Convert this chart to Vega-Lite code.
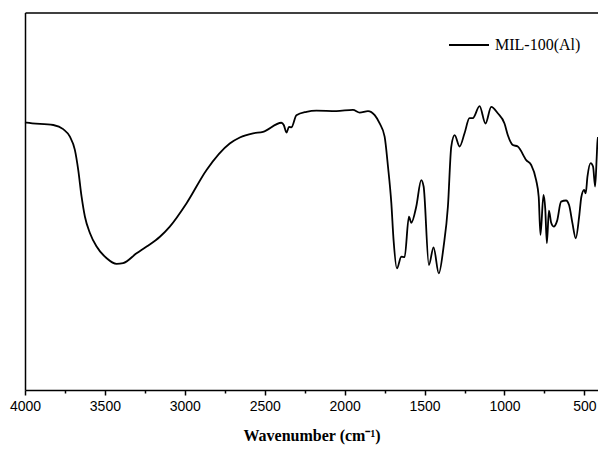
{
  "$schema": "https://vega.github.io/schema/vega-lite/v6.json",
  "width": 573,
  "height": 377.5,
  "autosize": {"type": "none"},
  "padding": {"left": 25, "top": 12.5, "right": 0, "bottom": 60},
  "config": {
    "view": {"stroke": null},
    "axis": {
      "grid": false,
      "domainColor": "black",
      "domainWidth": 1.5,
      "tickColor": "black",
      "tickWidth": 1.5,
      "labelColor": "black",
      "titleColor": "black"
    }
  },
  "data": {
    "values": [
      {"wavenumber": 4000, "transmittance": 70.9},
      {"wavenumber": 3989, "transmittance": 70.8},
      {"wavenumber": 3823, "transmittance": 70.2},
      {"wavenumber": 3761, "transmittance": 69.1},
      {"wavenumber": 3719, "transmittance": 67.1},
      {"wavenumber": 3688, "transmittance": 63.6},
      {"wavenumber": 3667, "transmittance": 58.3},
      {"wavenumber": 3646, "transmittance": 51.2},
      {"wavenumber": 3625, "transmittance": 45.9},
      {"wavenumber": 3594, "transmittance": 41.6},
      {"wavenumber": 3552, "transmittance": 38.0},
      {"wavenumber": 3489, "transmittance": 34.9},
      {"wavenumber": 3427, "transmittance": 33.4},
      {"wavenumber": 3386, "transmittance": 33.6},
      {"wavenumber": 3302, "transmittance": 36.2},
      {"wavenumber": 3239, "transmittance": 38.0},
      {"wavenumber": 3156, "transmittance": 40.6},
      {"wavenumber": 3094, "transmittance": 43.3},
      {"wavenumber": 2989, "transmittance": 49.5},
      {"wavenumber": 2864, "transmittance": 58.3},
      {"wavenumber": 2719, "transmittance": 65.3},
      {"wavenumber": 2656, "transmittance": 66.9},
      {"wavenumber": 2573, "transmittance": 68.0},
      {"wavenumber": 2511, "transmittance": 68.4},
      {"wavenumber": 2396, "transmittance": 70.8},
      {"wavenumber": 2381, "transmittance": 70.2},
      {"wavenumber": 2364, "transmittance": 68.2},
      {"wavenumber": 2348, "transmittance": 69.7},
      {"wavenumber": 2333, "transmittance": 69.6},
      {"wavenumber": 2302, "transmittance": 72.8},
      {"wavenumber": 2239, "transmittance": 73.7},
      {"wavenumber": 2177, "transmittance": 74.0},
      {"wavenumber": 2052, "transmittance": 73.9},
      {"wavenumber": 1948, "transmittance": 74.2},
      {"wavenumber": 1906, "transmittance": 73.5},
      {"wavenumber": 1854, "transmittance": 73.9},
      {"wavenumber": 1812, "transmittance": 72.8},
      {"wavenumber": 1781, "transmittance": 70.6},
      {"wavenumber": 1750, "transmittance": 67.1},
      {"wavenumber": 1729, "transmittance": 59.2},
      {"wavenumber": 1708, "transmittance": 49.5},
      {"wavenumber": 1694, "transmittance": 39.7},
      {"wavenumber": 1673, "transmittance": 32.2},
      {"wavenumber": 1646, "transmittance": 35.3},
      {"wavenumber": 1625, "transmittance": 35.2},
      {"wavenumber": 1598, "transmittance": 45.9},
      {"wavenumber": 1583, "transmittance": 44.3},
      {"wavenumber": 1552, "transmittance": 48.6},
      {"wavenumber": 1521, "transmittance": 55.6},
      {"wavenumber": 1506, "transmittance": 53.9},
      {"wavenumber": 1473, "transmittance": 33.1},
      {"wavenumber": 1444, "transmittance": 37.8},
      {"wavenumber": 1411, "transmittance": 30.9},
      {"wavenumber": 1381, "transmittance": 38.0},
      {"wavenumber": 1354, "transmittance": 48.6},
      {"wavenumber": 1333, "transmittance": 64.5},
      {"wavenumber": 1312, "transmittance": 67.5},
      {"wavenumber": 1281, "transmittance": 64.5},
      {"wavenumber": 1250, "transmittance": 68.0},
      {"wavenumber": 1219, "transmittance": 72.0},
      {"wavenumber": 1198, "transmittance": 72.0},
      {"wavenumber": 1156, "transmittance": 75.2},
      {"wavenumber": 1119, "transmittance": 70.6},
      {"wavenumber": 1083, "transmittance": 75.0},
      {"wavenumber": 1042, "transmittance": 73.3},
      {"wavenumber": 1000, "transmittance": 70.6},
      {"wavenumber": 979, "transmittance": 67.5},
      {"wavenumber": 948, "transmittance": 64.9},
      {"wavenumber": 917, "transmittance": 64.5},
      {"wavenumber": 864, "transmittance": 60.9},
      {"wavenumber": 833, "transmittance": 59.6},
      {"wavenumber": 802, "transmittance": 55.6},
      {"wavenumber": 786, "transmittance": 51.2},
      {"wavenumber": 775, "transmittance": 41.1},
      {"wavenumber": 756, "transmittance": 51.7},
      {"wavenumber": 745, "transmittance": 48.0},
      {"wavenumber": 735, "transmittance": 38.9},
      {"wavenumber": 722, "transmittance": 47.5},
      {"wavenumber": 708, "transmittance": 44.3},
      {"wavenumber": 692, "transmittance": 43.3},
      {"wavenumber": 671, "transmittance": 44.8},
      {"wavenumber": 646, "transmittance": 49.9},
      {"wavenumber": 615, "transmittance": 50.2},
      {"wavenumber": 596, "transmittance": 49.0},
      {"wavenumber": 575, "transmittance": 44.2},
      {"wavenumber": 554, "transmittance": 40.2},
      {"wavenumber": 533, "transmittance": 45.9},
      {"wavenumber": 519, "transmittance": 51.2},
      {"wavenumber": 502, "transmittance": 53.0},
      {"wavenumber": 492, "transmittance": 52.1},
      {"wavenumber": 481, "transmittance": 56.5},
      {"wavenumber": 461, "transmittance": 60.1},
      {"wavenumber": 446, "transmittance": 59.2},
      {"wavenumber": 433, "transmittance": 53.9},
      {"wavenumber": 423, "transmittance": 61.8},
      {"wavenumber": 419, "transmittance": 65.4},
      {"wavenumber": 415, "transmittance": 67.0}
    ]
  },
  "resolve": {"axis": {"x": "independent"}},
  "layer": [
    {
      "mark": {"type": "line", "strokeWidth": 1.8, "interpolate": "monotone"},
      "encoding": {
        "x": {
          "field": "wavenumber",
          "type": "quantitative",
          "scale": {"domain": [415, 4000], "reverse": true, "nice": false, "zero": false},
          "axis": {
            "orient": "bottom",
            "values": [4000, 3500, 3000, 2500, 2000, 1500, 1000, 500],
            "format": "d",
            "tickSize": 5,
            "labelFont": "Liberation Sans",
            "labelFontSize": 14,
            "labelPadding": 4,
            "labelFlush": false,
            "title": "Wavenumber (cm⁻¹)",
            "titleFont": "Liberation Serif",
            "titleFontWeight": "bold",
            "titleFontSize": 16,
            "titlePadding": 14
          }
        },
        "y": {
          "field": "transmittance",
          "type": "quantitative",
          "scale": {"domain": [0, 100], "nice": false},
          "axis": {"ticks": false, "labels": false, "title": null, "grid": false}
        },
        "color": {
          "datum": "MIL-100(Al)",
          "type": "nominal",
          "scale": {"range": ["black"]},
          "legend": {
            "orient": "none",
            "legendX": 423,
            "legendY": 11.5,
            "title": null,
            "padding": 0,
            "symbolType": "stroke",
            "symbolSize": 1600,
            "symbolStrokeWidth": 2,
            "symbolStrokeColor": "black",
            "labelFont": "Liberation Serif",
            "labelFontSize": 16,
            "labelColor": "black",
            "labelOffset": 5
          }
        }
      }
    },
    {
      "mark": {"type": "line", "strokeOpacity": 0},
      "encoding": {
        "x": {
          "field": "wavenumber",
          "type": "quantitative",
          "axis": {
            "orient": "bottom",
            "values": [3750, 3250, 2750, 2250, 1750, 1250, 750],
            "tickSize": 3,
            "labels": false,
            "domain": false,
            "title": null
          }
        },
        "y": {"field": "transmittance", "type": "quantitative"}
      }
    },
    {
      "mark": {"type": "line", "strokeOpacity": 0},
      "encoding": {
        "x": {
          "field": "wavenumber",
          "type": "quantitative",
          "axis": {"orient": "top", "ticks": false, "labels": false, "title": null}
        },
        "y": {"field": "transmittance", "type": "quantitative"}
      }
    }
  ]
}
